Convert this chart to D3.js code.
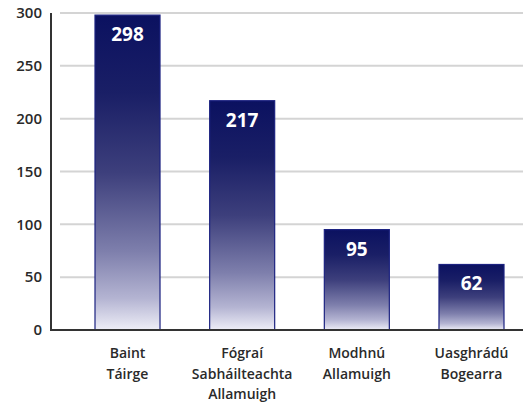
<!DOCTYPE html>
<html>
<head>
<meta charset="utf-8">
<script src="https://cdn.jsdelivr.net/npm/d3@7"></script>
<style>
  html, body { margin: 0; padding: 0; background: #fff; }
  svg { display: block; }
  text { font-family: "Open Sans", "Noto Sans", sans-serif; }
</style>
</head>
<body>
<svg id="chart" width="523" height="405"></svg>
<script>
const categories = [["Baint", "Táirge"], ["Fógraí", "Sabháilteachta", "Allamuigh"], ["Modhnú", "Allamuigh"], ["Uasghrádú", "Bogearra"]];
const values = [298, 217, 95, 62];
const yTicks = [0, 50, 100, 150, 200, 250, 300];

const svg = d3.select("#chart");
const axisX = 51, plotRight = 523, y0 = 330, yTop = 13;

const x = d3.scaleBand()
  .domain(categories.map((c, i) => i))
  .range([95, 504])
  .paddingInner(0.433)
  .paddingOuter(0);

const y = d3.scaleLinear().domain([0, 300]).range([y0, yTop]);

const defs = svg.append("defs");
const grad = defs.append("linearGradient")
  .attr("id", "barGrad").attr("x1", 0).attr("y1", 0).attr("x2", 0).attr("y2", 1);
[[0, "#0b1160"], [0.25, "#1a1f66"], [0.5, "#3d3f7c"], [0.75, "#7e7fac"], [0.9, "#b4b4d2"], [1, "#eeeef7"]]
  .forEach(([o, c]) => grad.append("stop").attr("offset", o).attr("stop-color", c));

// gridlines
svg.append("g").selectAll("line").data(yTicks.filter(t => t > 0)).join("line")
  .attr("x1", 60).attr("x2", plotRight)
  .attr("y1", d => y(d)).attr("y2", d => y(d))
  .attr("stroke", "#d4d4d4").attr("stroke-width", 2);

// bars
svg.append("g").selectAll("rect").data(values).join("rect")
  .attr("x", (d, i) => x(i))
  .attr("y", d => y(d))
  .attr("width", x.bandwidth())
  .attr("height", d => y0 - y(d))
  .attr("fill", "url(#barGrad)")
  .attr("stroke", "#1c2280").attr("stroke-width", 1.2);

// value labels
svg.append("g").selectAll("text").data(values).join("text")
  .attr("x", (d, i) => x(i) + x.bandwidth() / 2)
  .attr("y", d => y(d) + 26)
  .attr("text-anchor", "middle")
  .attr("fill", "#fff")
  .attr("font-size", 19)
  .attr("font-weight", 700)
  .text(d => d);

// y axis
const yAxis = d3.axisLeft(y).tickValues(yTicks).tickSize(0).tickPadding(9);
const gy = svg.append("g").attr("transform", `translate(${axisX},0)`).call(yAxis);
gy.select(".domain").remove();
gy.selectAll("text").attr("font-size", 15).attr("font-weight", 600).attr("fill", "#2a2a2a")
  .attr("font-family", "'Open Sans', sans-serif");
svg.append("line").attr("x1", axisX).attr("x2", axisX).attr("y1", yTop).attr("y2", y0 + 1)
  .attr("stroke", "#333").attr("stroke-width", 2);
svg.append("line").attr("x1", axisX - 1).attr("x2", plotRight).attr("y1", y0).attr("y2", y0)
  .attr("stroke", "#333").attr("stroke-width", 2);

// x labels
const xl = svg.append("g").selectAll("text").data(categories).join("text")
  .attr("x", (d, i) => x(i) + x.bandwidth() / 2)
  .attr("y", 358)
  .attr("text-anchor", "middle")
  .attr("font-size", 14)
  .attr("font-weight", 600)
  .attr("fill", "#2a2a2a");
xl.selectAll("tspan").data(d => d).join("tspan")
  .attr("x", function() { return this.parentNode.getAttribute("x"); })
  .attr("dy", (d, j) => j === 0 ? 0 : 20.5)
  .text(d => d);
</script>
</body>
</html>
